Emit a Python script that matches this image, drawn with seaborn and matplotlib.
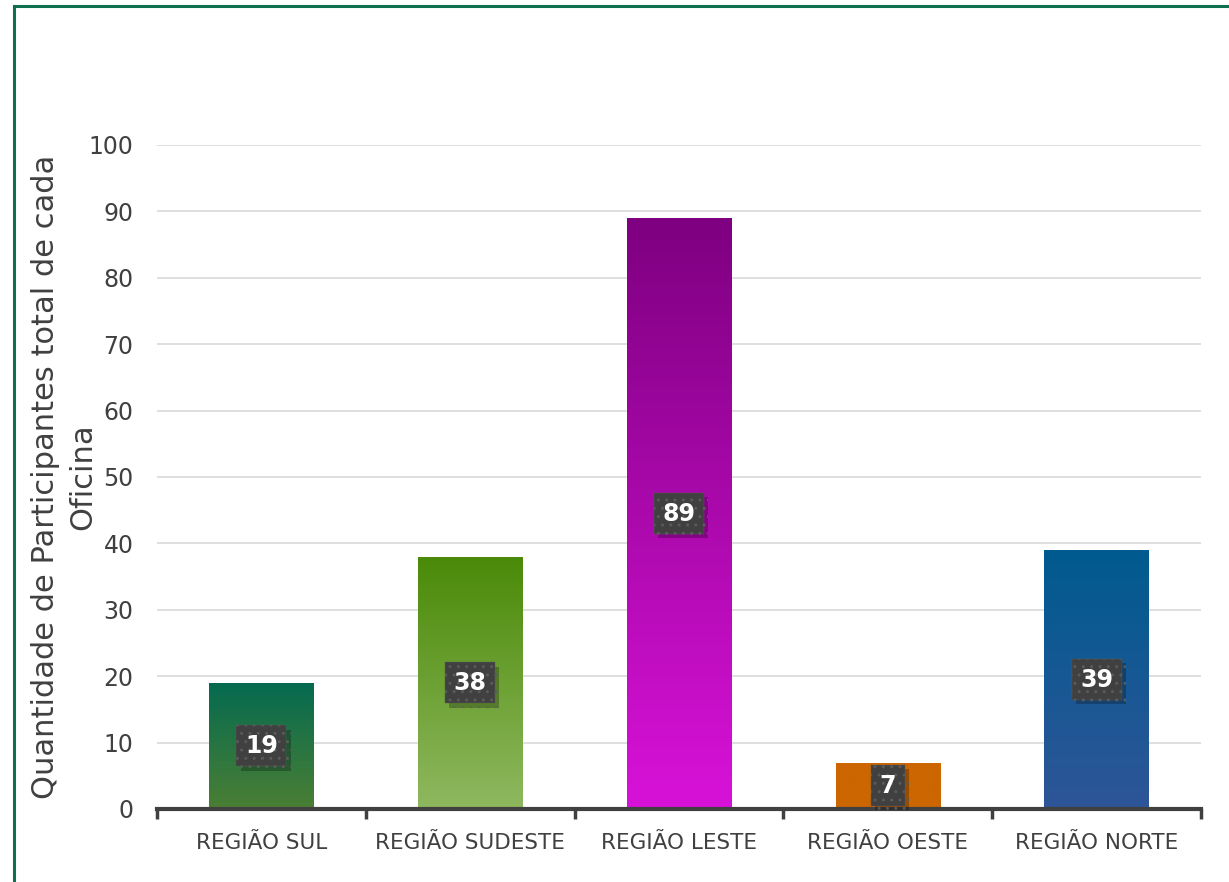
import matplotlib
matplotlib.use("Agg")
import matplotlib.pyplot as plt
from matplotlib.colors import LinearSegmentedColormap
from matplotlib.patches import Rectangle
import matplotlib.patheffects as pe
import numpy as np
import pandas as pd
import seaborn as sns

# Data
regioes = ["REGIÃO SUL", "REGIÃO SUDESTE", "REGIÃO LESTE", "REGIÃO OESTE", "REGIÃO NORTE"]
participantes = [19, 38, 89, 7, 39]
# gradient colours (top, bottom) per bar
cor_topo = ["#046A50", "#4A8A08", "#7E0080", "#CC6600", "#005B8F"]
cor_base = ["#4B7F34", "#8FB85F", "#D812D8", "#CC6600", "#2E5598"]

df = pd.DataFrame({"Regiao": regioes, "Participantes": participantes})

sns.set_style("white")
plt.rcParams["font.family"] = ["DejaVu Sans"]

fig = plt.figure(figsize=(12.29, 8.82), dpi=100)
ax = fig.add_axes([157 / 1229, 73 / 882, (1201 - 157) / 1229, (809 - 145) / 882])

sns.barplot(data=df, x="Regiao", y="Participantes", hue="Regiao",
            palette=cor_topo, width=0.5, legend=False, ax=ax, zorder=2)

# gradient fill for each bar
for patch, top, bot in zip(ax.patches, cor_topo, cor_base):
    x0, y0 = patch.get_x(), patch.get_y()
    w, h = patch.get_width(), patch.get_height()
    cmap = LinearSegmentedColormap.from_list("g", [bot, top])
    grad = np.linspace(0, 1, 256).reshape(-1, 1)
    im = ax.imshow(grad, cmap=cmap, origin="lower", aspect="auto",
                   extent=[x0, x0 + w, y0, y0 + h], zorder=2)
    im.set_clip_path(patch)
    patch.set_facecolor("none")
    patch.set_edgecolor("none")

# value labels
for i, v in enumerate(participantes):
    t = ax.text(i, v / 2, str(v), ha="center", va="center", fontsize=17,
                fontweight="bold", color="white", zorder=4,
                bbox=dict(boxstyle="square,pad=0.36", facecolor="#404040",
                          edgecolor="#5A5A5A", linewidth=0.3, hatch=".."))
    t.get_bbox_patch().set_path_effects([
        pe.SimplePatchShadow(offset=(3, -3), shadow_rgbFace="black", alpha=0.25),
        pe.Normal()])

ax.set_ylim(0, 100)
ax.set_xlim(-0.5, 4.5)
ax.set_yticks(range(0, 101, 10))
ax.yaxis.grid(True, color="#D9D9D9", linewidth=1.2, zorder=0)
ax.set_axisbelow(True)

ax.set_xlabel("")
ax.set_ylabel("Quantidade de Participantes total de cada\nOficina",
              fontsize=22, color="#404040", linespacing=1.35)
ax.yaxis.set_label_coords(-0.057, 0.5)

ax.tick_params(axis="y", length=0, labelsize=17, labelcolor="#404040", pad=17)
ax.tick_params(axis="x", which="major", length=0, labelsize=15.5,
               labelcolor="#404040", pad=17)
ax.set_xticks(np.arange(-0.5, 5, 1), minor=True)
ax.tick_params(axis="x", which="minor", bottom=True, length=7, width=2.5,
               color="#404040", direction="out")

for s in ["top", "right", "left"]:
    ax.spines[s].set_visible(False)
ax.spines["bottom"].set_color("#404040")
ax.spines["bottom"].set_linewidth(3)

# outer frame
fig.patches.append(Rectangle((14 / 1229, -0.05), 1.1, 1 - 6 / 882 + 0.05,
                             transform=fig.transFigure, fill=False,
                             edgecolor="#0E7050", linewidth=2.2))

fig.savefig("out.png", dpi=100)
